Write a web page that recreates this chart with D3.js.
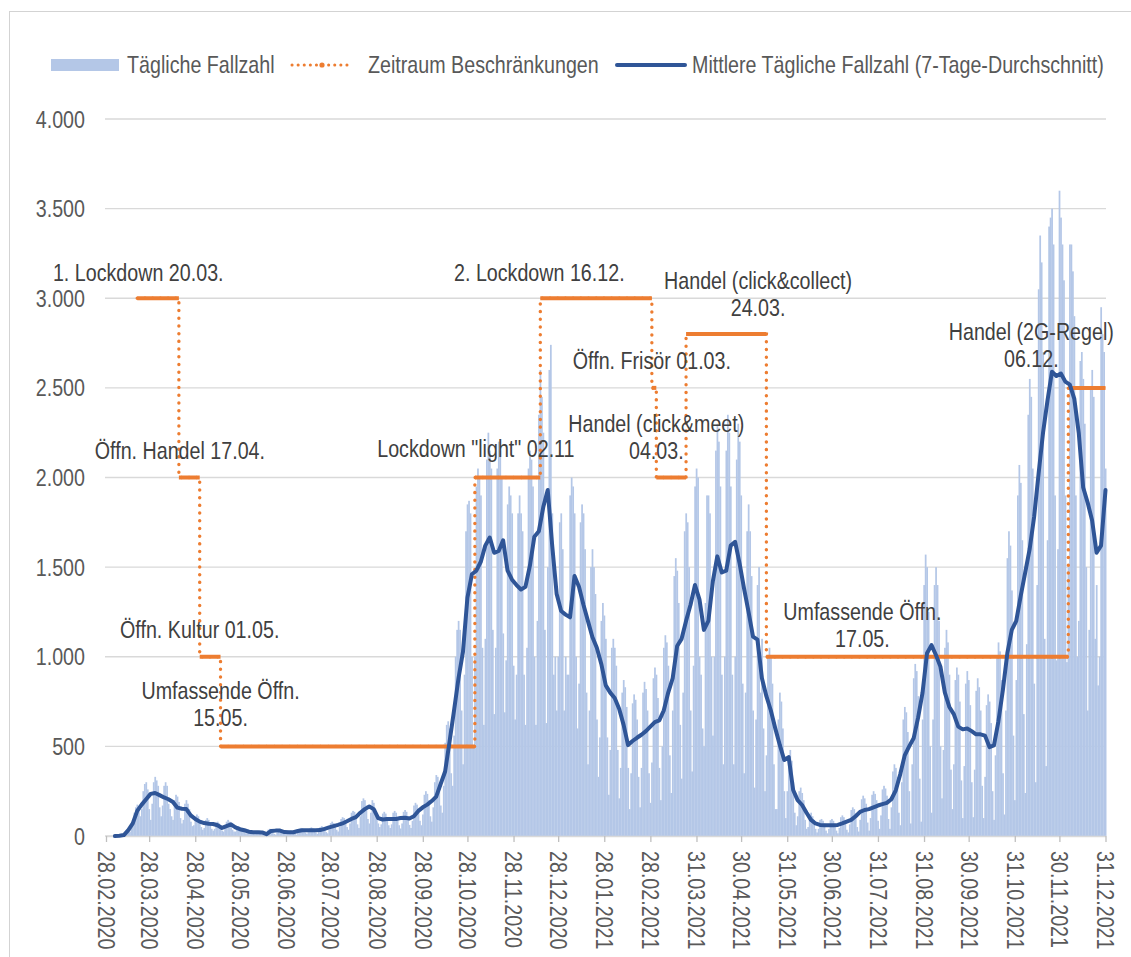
<!DOCTYPE html>
<html><head><meta charset="utf-8">
<script src="https://cdn.jsdelivr.net/npm/d3@7"></script>
<style>body{margin:0;background:#fff}svg{display:block}</style>
</head><body>
<svg id="chart" width="1131" height="957"></svg>
<script>
// ---------- DATA ----------
const dailyStartDate = "2020-02-28";
const dailyCases = [
0,0,0,
0,1,1,2,3,1,2,
3,6,9,15,28,30,22,
60,95,130,160,175,150,110,
150,250,290,300,260,150,90,
180,300,330,310,280,160,110,
170,280,300,280,180,150,110,
90,200,230,220,190,100,70,
90,180,200,180,150,80,55,
60,110,120,110,90,50,35,
45,90,100,90,75,40,30,
40,75,80,70,60,30,25,
45,80,90,80,65,35,25,
25,50,55,50,40,25,20,
15,30,35,30,25,15,10,
12,28,30,25,22,12,10,
15,35,40,35,30,12,8,
18,38,40,35,30,15,10,
14,28,30,28,25,14,8,
22,42,45,42,35,20,12,
22,42,48,42,38,20,12,
25,50,55,50,42,22,15,
38,72,80,72,62,35,25,
50,95,105,100,85,50,35,
70,130,140,135,115,65,45,
110,195,210,200,170,95,70,
130,200,185,150,120,70,50,
65,125,135,125,105,60,45,
65,130,140,130,105,60,42,
70,135,145,135,110,62,45,
85,170,185,175,150,85,60,
120,230,250,235,200,110,80,
160,300,340,330,290,170,130,
280,520,620,640,600,350,280,
560,1000,1150,1200,1150,700,400,
900,1700,1850,1870,1800,1000,500,
1000,1950,2050,2000,1900,1050,620,
1100,2100,2250,2150,2050,1150,680,
1050,2050,2200,2150,2000,1130,690,
980,1850,1950,1900,1800,950,650,
900,1800,1900,1800,1700,900,620,
1050,2050,2150,2100,1950,1000,620,
1200,2350,2600,2450,2250,1150,630,
1500,2600,2740,1800,900,1000,700,
1000,1750,1800,1600,700,1000,900,
900,1900,2000,1950,1800,1000,600,
850,1750,1850,1800,1600,800,400,
700,1500,1600,1500,1350,650,330,
550,1200,1300,1230,1100,550,230,
480,1050,1100,1050,950,480,210,
380,800,870,830,720,380,150,
350,740,790,760,650,330,160,
380,800,860,820,700,350,185,
410,880,940,900,770,380,200,
500,1050,1120,1080,950,450,240,
700,1450,1550,1480,1300,620,320,
800,1700,1800,1750,1500,700,360,
950,1950,2050,2000,1000,900,600,
500,1300,1900,1900,1800,1000,560,
1000,2150,2300,2200,1950,900,400,
1000,2150,2350,2250,1950,900,400,
1000,2100,2300,2200,1900,850,350,
800,1700,1850,1700,1450,700,270,
650,1400,1500,800,1100,600,250,
450,1000,1050,1000,850,400,150,
150,650,800,750,600,250,100,
250,450,480,420,300,130,60,
110,250,270,240,200,90,40,
50,120,130,110,90,40,20,
40,90,95,85,70,30,15,
40,88,95,85,68,30,15,
45,105,115,105,85,35,20,
65,145,160,150,125,50,25,
90,205,225,210,180,75,30,
100,230,250,235,200,85,40,
115,260,280,265,225,95,40,
160,360,400,380,330,130,60,
300,650,720,690,580,250,70,
400,880,960,920,780,320,80,
650,1400,1570,1500,1250,500,130,
650,1400,1500,1400,1200,500,210,
480,1050,1150,1080,900,370,150,
400,870,940,900,750,310,100,
390,850,920,870,730,300,105,
370,810,880,830,700,280,100,
330,730,790,750,630,250,90,
450,1000,1080,1030,870,350,120,
700,1550,1700,1620,1370,560,200,
870,1900,2070,1970,1650,680,240,
1070,2350,2550,2450,2050,850,300,
1400,3050,3350,3200,2700,1100,390,
1650,3400,3450,3500,3300,1900,980,
1600,3600,3450,3300,3100,1900,970,
1500,3300,3300,3150,2900,1900,1000,
1200,2650,2700,2550,2300,1500,700,
1150,2500,2600,2450,1100,1400,840,
1000,2950,2800,2700,2050
];

// 7-day average, read every 3 days starting 05.03.2020
const avgStartDate = "2020-03-05";
const avgStepDays = 3;
const avgCases = [
0,2,5,33,70,140,175,205,235,240,228,215,205,190,158,152,150,115,95,80,
72,68,67,60,45,55,65,48,38,32,24,21,21,20,10,28,30,30,22,21,
21,28,32,32,32,32,33,40,48,55,62,70,82,95,105,130,150,165,150,100,
92,95,95,95,100,102,98,110,140,160,175,195,220,290,360,527,700,880,1027,1330,
1460,1480,1530,1620,1665,1580,1590,1650,1480,1430,1400,1375,1390,1508,1670,1700,1835,1930,1620,1350,
1255,1235,1220,1450,1390,1290,1200,1110,1050,960,840,800,770,710,620,507,530,548,565,585,
610,635,645,700,800,880,1060,1100,1200,1290,1400,1320,1150,1200,1420,1560,1470,1480,1620,1641,
1520,1380,1250,1112,1095,880,780,700,600,508,424,440,257,200,173,130,90,70,62,60,
60,60,62,70,80,90,110,135,145,150,160,170,178,185,205,255,345,450,500,545,
660,800,1020,1065,1010,945,800,720,680,610,595,600,585,567,567,560,496,505,640,815,
1020,1150,1200,1340,1470,1600,1780,2020,2250,2430,2590,2566,2580,2535,2518,2440,2250,1944,1860,1760,
1580,1620,1930
];

// restriction periods (step series)
const restrictionDates = ["2020-03-20","2020-04-17","2020-05-01","2020-05-15","2020-11-02","2020-12-16","2021-03-01","2021-03-04","2021-03-24","2021-05-17","2021-12-06","2021-12-31"];
const restrictionLevels = [3000,2000,1000,500,2000,3000,2500,2000,2800,1000,2500];

const xTickLabels = ["28.02.2020","28.03.2020","28.04.2020","28.05.2020","28.06.2020","28.07.2020","28.08.2020","28.09.2020","28.10.2020","28.11.2020","28.12.2020","28.01.2021","28.02.2021","31.03.2021","30.04.2021","31.05.2021","30.06.2021","31.07.2021","31.08.2021","30.09.2021","31.10.2021","30.11.2021","31.12.2021"];
const yTickValues = [0,500,1000,1500,2000,2500,3000,3500,4000];

const legendLabels = ["Tägliche Fallzahl","Zeitraum Beschränkungen","Mittlere Tägliche Fallzahl (7-Tage-Durchschnitt)"];

const annotationTexts = [
  ["1. Lockdown 20.03."],
  ["Öffn. Handel 17.04."],
  ["Öffn. Kultur 01.05."],
  ["Umfassende Öffn.","15.05."],
  ["Lockdown \"light\" 02.11"],
  ["2. Lockdown 16.12."],
  ["Öffn. Frisör 01.03."],
  ["Handel (click&meet)","04.03."],
  ["Handel (click&collect)","24.03."],
  ["Umfassende Öffn.","17.05."],
  ["Handel (2G-Regel)","06.12."]
];
const annotationDates = ["2020-03-20","2020-04-17","2020-05-01","2020-05-15","2020-11-02","2020-12-16","2021-03-01","2021-03-04","2021-03-24","2021-05-17","2021-12-06"];
const annotationLevels = [3000,2000,1000,500,2000,3000,2500,2000,2800,1000,2500];

// ---------- LAYOUT ----------
const annotationLayout = [ // [dx, dy of first baseline]
  [1,-17],[1,-19],[0,-19],[0,-47],[1,-21],[-1,-17],[0,-19],[0,-46],[72,-45],[96,-37],[-37,-48]
];
const LINE_GAP = 27;
const SX = 0.82;            // narrow font
const FONT = "'Liberation Sans', Arial, sans-serif";
const FS = 24;
const C_TEXT = "#595959", C_ANN = "#404040", C_BAR = "#B4C7E7", C_LINE = "#2F5597", C_OR = "#ED7D31", C_GRID = "#D9D9D9";

const DAY = 864e5;
const parseISO = s => { const [y,m,d] = s.split("-").map(Number); return new Date(Date.UTC(y,m-1,d)); };
const parseDE = s => { const [d,m,y] = s.split(".").map(Number); return new Date(Date.UTC(y,m-1,d)); };

const svg = d3.select("#chart");
svg.append("rect").attr("width",1131).attr("height",957).attr("fill","#fff");
// outer dotted frame
svg.append("rect").attr("x",9.5).attr("y",11.5).attr("width",1140).attr("height",960)
  .attr("fill","none").attr("stroke","#A6A6A6").attr("stroke-width",1).attr("stroke-dasharray","1 1");

const t0 = parseISO(dailyStartDate);
const tEnd = parseDE(xTickLabels[xTickLabels.length-1]);
const x = d3.scaleUtc().domain([t0, tEnd]).range([106, 1105.5]);
const y = d3.scaleLinear().domain([0, 4000]).range([836, 119]);

const fmt = d3.formatLocale({decimal:",", thousands:".", grouping:[3], currency:["","€"]}).format(",");

function ntext(g, px, py, s, anchor, fill) {
  return g.append("text")
    .attr("transform", `translate(${px},${py}) scale(${SX},1)`)
    .attr("text-anchor", anchor)
    .attr("font-family", FONT).attr("font-size", FS)
    .attr("fill", fill).text(s);
}

// gridlines + y labels
const gGrid = svg.append("g");
yTickValues.forEach(v => {
  gGrid.append("line").attr("x1",105).attr("x2",1106).attr("y1",y(v)).attr("y2",y(v))
    .attr("stroke",C_GRID).attr("stroke-width",1.4);
  ntext(gGrid, 85, y(v)+8.5, fmt(v), "end", C_TEXT);
});

// bars
const barW = x(new Date(t0.getTime()+DAY)) - x(t0);
svg.append("g").selectAll("rect").data(dailyCases).join("rect")
  .attr("x", (d,i) => x(new Date(t0.getTime()+i*DAY)) - barW/2)
  .attr("width", barW + 0.25)
  .attr("y", d => y(d))
  .attr("height", d => y(0) - y(d))
  .attr("fill", C_BAR);

// x axis
const tickDates = xTickLabels.map(parseDE);
const xAxis = d3.axisBottom(x).tickValues(tickDates).tickSizeInner(6).tickSizeOuter(0)
  .tickFormat((d,i) => xTickLabels[i]);
const gx = svg.append("g").attr("transform", `translate(0,${y(0)})`).call(xAxis);
gx.select(".domain").attr("stroke", C_GRID).attr("stroke-width",1.4);
gx.selectAll(".tick line").attr("stroke", "#BFBFBF").attr("stroke-width",1.3);
gx.selectAll(".tick text")
  .attr("x",0).attr("y",0).attr("dy","0.36em")
  .attr("transform", `translate(0,15) rotate(90) scale(${SX},1)`)
  .attr("text-anchor","start")
  .attr("font-family", FONT).attr("font-size", FS).attr("fill", C_TEXT);

// restriction step series
const rDates = restrictionDates.map(parseISO);
const stepPts = [];
restrictionLevels.forEach((lv,i) => {
  stepPts.push([x(rDates[i]), y(lv)]);
  stepPts.push([x(rDates[i+1]), y(lv)]);
});
svg.append("path").attr("d", d3.line()(stepPts)).attr("fill","none")
  .attr("stroke", C_OR).attr("stroke-width",3.4).attr("stroke-linecap","round")
  .attr("stroke-dasharray","0.1 7.6");
const gSeg = svg.append("g");
restrictionLevels.forEach((lv,i) => {
  gSeg.append("line").attr("x1", x(rDates[i])).attr("x2", x(rDates[i+1]))
    .attr("y1", y(lv)).attr("y2", y(lv))
    .attr("stroke", C_OR).attr("stroke-width",4);
});

// average line
const tA = parseISO(avgStartDate);
const avgLine = d3.line()
  .x((d,i) => x(new Date(tA.getTime() + i*avgStepDays*DAY)))
  .y(d => y(d));
svg.append("path").attr("d", avgLine(avgCases)).attr("fill","none")
  .attr("stroke", C_LINE).attr("stroke-width",4).attr("stroke-linejoin","round").attr("stroke-linecap","round");

// annotations
const gAnn = svg.append("g");
annotationTexts.forEach((lines,i) => {
  const cx = x(parseISO(annotationDates[i])) + annotationLayout[i][0];
  const by = y(annotationLevels[i]) + annotationLayout[i][1];
  lines.forEach((s,j) => ntext(gAnn, cx, by + j*LINE_GAP, s, "middle", C_ANN));
});

// legend
const gL = svg.append("g");
const LY = 65;
gL.append("rect").attr("x",51).attr("y",LY-6).attr("width",68).attr("height",12).attr("fill",C_BAR);
ntext(gL, 127, LY+8, legendLabels[0], "start", C_TEXT);
gL.append("line").attr("x1",292).attr("x2",352).attr("y1",LY).attr("y2",LY)
  .attr("stroke",C_OR).attr("stroke-width",3).attr("stroke-linecap","round").attr("stroke-dasharray","0.1 6");
gL.append("circle").attr("cx",322).attr("cy",LY).attr("r",2.6).attr("fill",C_OR);
ntext(gL, 368, LY+8, legendLabels[1], "start", C_TEXT);
gL.append("line").attr("x1",617).attr("x2",685).attr("y1",LY).attr("y2",LY)
  .attr("stroke",C_LINE).attr("stroke-width",4).attr("stroke-linecap","round");
ntext(gL, 692, LY+8, legendLabels[2], "start", C_TEXT);
</script>
</body></html>
